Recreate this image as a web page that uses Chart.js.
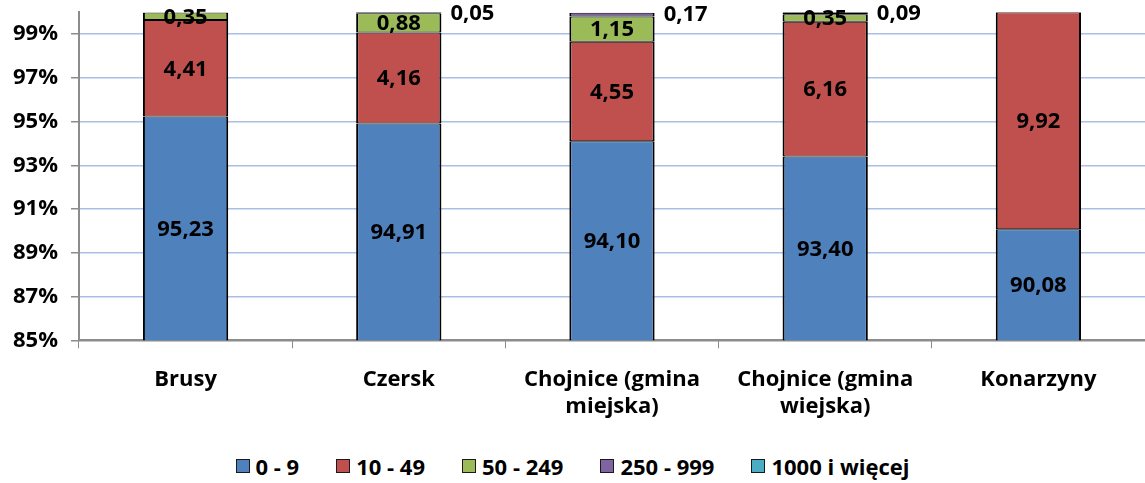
<!DOCTYPE html>
<html lang="pl">
<head>
  <meta charset="UTF-8" />
  <title>Podmioty wg klas wielkości</title>
  <script src="https://cdn.jsdelivr.net/npm/chart.js"></script>
  <style>
    * { box-sizing: border-box; }
    html, body { margin: 0; padding: 0; background: #ffffff; overflow: hidden; }
    #wrap { position: relative; width: 1145px; height: 483px; overflow: hidden; }
    #plot { position: absolute; left: 0; top: -14px; width: 1145px; height: 452px; }
    #legend {
      position: absolute; left: 0; top: 452px; width: 1145px;
      display: flex; justify-content: center; gap: 37px;
      font-family: 'Open Sans', Lato, sans-serif; font-weight: bold; font-size: 22px;
      color: #000; line-height: 28px;
    }
    #legend span.item { display: flex; align-items: center; }
    #legend span.box {
      display: inline-block; width: 14px; height: 14px; margin-right: 6px;
      border: 1.5px solid #1a1a1a;
    }
  </style>
</head>
<body>
  <div id="wrap">
    <div id="plot"><canvas id="chart"></canvas></div>
    <div id="legend"></div>
  </div>

<script>
const categories = [
  'Brusy',
  'Czersk',
  ['Chojnice (gmina', 'miejska)'],
  ['Chojnice (gmina', 'wiejska)'],
  'Konarzyny'
];

const seriesNames = ['0 - 9', '10 - 49', '50 - 249', '250 - 999', '1000 i więcej'];

const micro  = [95.23, 94.91, 94.10, 93.40, 90.08];
const small  = [4.41, 4.16, 4.55, 6.16, 9.92];
const medium = [0.35, 0.88, 1.15, 0.35, 0];
const large  = [0, 0.05, 0.17, 0.09, 0];
const huge   = [0, 0, 0, 0, 0];

const yTicks = [85, 87, 89, 91, 93, 95, 97, 99];

const colors = ['#4F81BD', '#C0504D', '#9BBB59', '#8064A2', '#4BACC6'];
const font = "'Open Sans', Lato, sans-serif";
const fontSize = 22;

// values at each segment; 250-999 goes to the right of the bar
const labelPlugin = {
  id: 'segLabels',
  afterDatasetsDraw(chart) {
    const ctx = chart.ctx;
    ctx.save();
    ctx.font = 'bold ' + fontSize + 'px ' + font;
    ctx.fillStyle = '#000';
    ctx.textBaseline = 'middle';
    chart.data.datasets.forEach((ds, i) => {
      if (i > 3) return;
      const meta = chart.getDatasetMeta(i);
      meta.data.forEach((bar, j) => {
        const v = ds.data[j];
        if (!v) return;
        const p = bar.getProps(['x', 'y', 'base', 'width'], true);
        const txt = v.toFixed(2).replace('.', ',');
        if (i === 3) {
          ctx.textAlign = 'left';
          ctx.fillText(txt, p.x + p.width / 2 + 9, p.y + 2);
        } else {
          const top = Math.max(p.y, chart.chartArea.top);
          const bot = Math.min(p.base, chart.chartArea.bottom);
          ctx.textAlign = 'center';
          ctx.fillText(txt, p.x, (top + bot) / 2 + 1);
        }
      });
    });
    ctx.restore();
  }
};

const seriesData = [micro, small, medium, large, huge];

const chart = new Chart(document.getElementById('chart'), {
  type: 'bar',
  data: {
    labels: categories,
    datasets: seriesData.map((d, i) => ({
      label: seriesNames[i],
      data: d.map(v => v || null),
      backgroundColor: colors[i],
      borderColor: '#000000',
      borderWidth: { top: 1, bottom: 1, left: 2, right: 2 },
      borderSkipped: false,
      barPercentage: 0.8,
      categoryPercentage: 0.5
    }))
  },
  options: {
    responsive: true,
    maintainAspectRatio: false,
    animation: false,
    layout: { padding: { top: 0, right: 0, left: 0, bottom: 0 } },
    plugins: {
      tooltip: { enabled: false },
      legend: { display: false }
    },
    scales: {
      x: {
        stacked: true,
        grid: {
          display: true,
          drawOnChartArea: false,
          offset: true,
          color: '#8c8c8c',
          tickLength: 8
        },
        border: { color: '#8c8c8c', width: 2 },
        ticks: {
          color: '#000',
          padding: 18,
          maxRotation: 0,
          font: { family: font, size: fontSize, weight: 'bold', lineHeight: 1.22 }
        }
      },
      y: {
        stacked: true,
        min: 85,
        max: 100,
        afterBuildTicks(axis) {
          axis.ticks = yTicks.map(v => ({ value: v }));
        },
        grid: {
          color: ctx => ctx.tick && ctx.tick.value === 85 ? '#8c8c8c' : '#a9bfe6',
          lineWidth: 1.5,
          tickLength: 8,
          tickColor: '#8c8c8c'
        },
        border: { color: '#8c8c8c', width: 2 },
        ticks: {
          color: '#000',
          padding: 13,
          font: { family: font, size: fontSize, weight: 'bold' },
          callback: v => v + '%'
        }
      }
    }
  },
  plugins: [labelPlugin]
});

// legend built from the same series names and colours
const legend = document.getElementById('legend');
chart.data.datasets.forEach(ds => {
  const item = document.createElement('span');
  item.className = 'item';
  item.innerHTML = `<span class="box" style="background:${ds.backgroundColor}"></span>${ds.label}`;
  legend.appendChild(item);
});
</script>
</body>
</html>
